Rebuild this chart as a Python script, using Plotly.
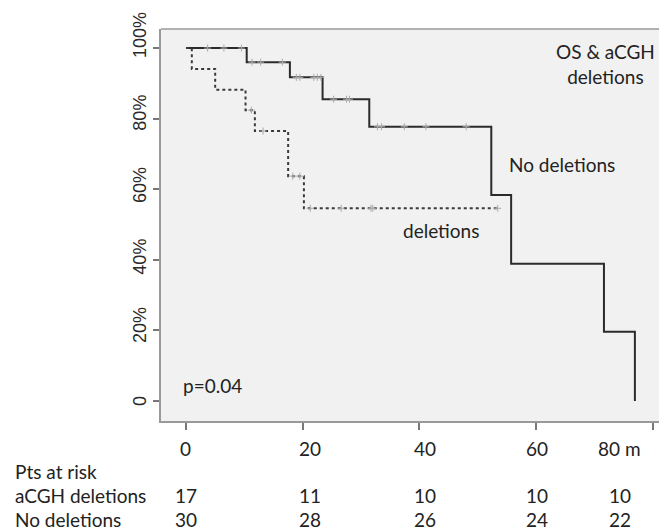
import plotly.graph_objects as go

# --- data ---
nodel_time = [0, 10.4, 17.8, 23.4, 31.4, 52.3, 55.7, 71.6, 76.9]
nodel_surv = [100, 96.0, 91.7, 85.5, 77.7, 58.4, 38.9, 19.6, 0]
nodel_cens_time = [3.7, 6.5, 9.5, 11.3, 12.8, 16.5, 18.9, 19.5, 21.9, 22.5, 23.1,
                   25.3, 27.5, 28.0, 32.8, 33.5, 37.4, 41.1, 48.0]
nodel_cens_surv = [100, 100, 100, 96.0, 96.0, 96.0, 91.7, 91.7, 91.7, 91.7, 91.7,
                   85.5, 85.5, 85.5, 77.7, 77.7, 77.7, 77.7, 77.7]

del_time = [0, 1.0, 5.0, 10.2, 11.8, 17.5, 20.2, 53.4]
del_surv = [100, 94.1, 88.2, 82.4, 76.5, 63.7, 54.6, 54.6]
del_cens_time = [11.2, 13.2, 18.3, 19.5, 21.3, 26.6, 31.7, 32.0, 53.4]
del_cens_surv = [82.4, 76.5, 63.7, 63.7, 54.6, 54.6, 54.6, 54.6, 54.6]

y_tick_vals = [0, 20, 40, 60, 80, 100]
y_tick_text = ["0", "20%", "40%", "60%", "80%", "100%"]
x_tick_vals = [0, 20, 40, 60, 80]
x_tick_text = ["0", "20", "40", "60", "80 m"]

risk_title = "Pts at risk"
risk_rows = ["aCGH deletions", "No deletions"]
risk_del = [17, 11, 10, 10, 10]
risk_nodel = [30, 28, 26, 24, 22]

# label positions as drawn in the reference
label_cols = [0, 21.2, 40.9, 60.1, 74.3]              # x data units
y_label_centers = [0, 21.5, 40.9, 61.2, 81.7, 103.7]  # y data units

TXT = "Lato, 'Open Sans', sans-serif"
FS = 19
fig = go.Figure()

fig.add_trace(go.Scatter(x=nodel_time, y=nodel_surv, mode="lines", line_shape="hv",
                         line=dict(color="#2b2b2b", width=2), showlegend=False))
fig.add_trace(go.Scatter(x=del_time, y=del_surv, mode="lines", line_shape="hv",
                         line=dict(color="#3a3a3a", width=2, dash="dot"), showlegend=False))
for cx, cy in [(nodel_cens_time, nodel_cens_surv), (del_cens_time, del_cens_surv)]:
    fig.add_trace(go.Scatter(x=cx, y=cy, mode="markers",
                             marker=dict(symbol="cross-thin", size=5,
                                         line=dict(color="#aaaaaa", width=1)),
                             showlegend=False))

ann = []
def txt(x, y, s, xref="x", yref="y", xanchor="center"):
    ann.append(dict(x=x, y=y, xref=xref, yref=yref, text=s, showarrow=False,
                    xanchor=xanchor, yanchor="middle",
                    font=dict(family=TXT, size=FS, color="#222")))

txt(71.8, 95.6, "OS &amp; aCGH<br>deletions")
txt(64.4, 67.0, "No deletions")
txt(43.6, 48.3, "deletions")
txt(4.5, 4.5, "p=0.04")

# y tick labels (rotated)
for yv, s in zip(y_label_centers, y_tick_text):
    ann.append(dict(x=-0.0415, y=yv, xref="paper", yref="y", text=s, showarrow=False,
                    textangle=-90, xanchor="center", yanchor="middle",
                    font=dict(family="Liberation Sans, Arial, sans-serif", size=18,
                              color="#2a2a2a")))

# x tick labels (below the axis, paper y)
for xv, s in zip(label_cols, x_tick_text):
    txt(xv, -0.0714, s, yref="paper")
# at-risk table
txt(-0.2925, -0.130, risk_title, xref="paper", yref="paper", xanchor="left")
row_y = [-0.189, -0.250]
for r, (name, vals) in enumerate(zip(risk_rows, [risk_del, risk_nodel])):
    txt(-0.2925, row_y[r], name, xref="paper", yref="paper", xanchor="left")
    for xv, v in zip(label_cols, vals):
        txt(xv, row_y[r], str(v), yref="paper")

# page body has an 8px margin: shrink the figure so it ends at the window edge
fig.update_layout(
    width=659, height=523,
    margin=dict(l=153, r=0, t=21, b=110),
    plot_bgcolor="#f1f1f1", paper_bgcolor="white",
    annotations=ann,
    xaxis=dict(range=[-4.28, 82.4], tickvals=x_tick_vals, ticktext=[""] * 5,
               ticks="outside", ticklen=7, tickcolor="#777", tickwidth=1.5,
               showgrid=False, zeroline=False, showline=True, linecolor="#999",
               linewidth=1.5, mirror=False),
    yaxis=dict(range=[-5.67, 105.4], tickvals=y_tick_vals, ticktext=[""] * 6,
               ticks="outside", ticklen=6, tickcolor="#777",
               tickwidth=1.5, showgrid=False, zeroline=False, showline=True,
               linecolor="#999", linewidth=1.5),
    shapes=[dict(type="line", xref="paper", yref="paper", x0=0, x1=1, y0=1, y1=1,
                 line=dict(color="#999", width=1.5))],
)

fig.write_html("out.html")
